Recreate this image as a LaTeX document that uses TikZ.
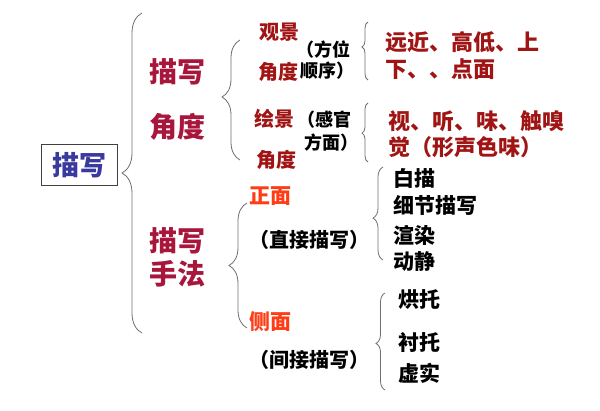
\documentclass[tikz,border=0pt]{standalone}
\usepackage{fontspec}
\newfontfamily\cjk{Noto Sans CJK SC}
\usetikzlibrary{decorations.pathreplacing, positioning}
\definecolor{boxblue}{HTML}{3A3A9E}
\definecolor{titlered}{HTML}{A8163C}
\definecolor{itemred}{HTML}{A01414}
\definecolor{sidered}{HTML}{FF3C14}
\definecolor{bracegrey}{HTML}{6E6E6E}
\tikzset{
  word/.style = {inner sep=0pt, font=\cjk\bfseries\fontsize{#1}{#1}\selectfont},
  root/.style = {word=27, text=boxblue, draw=black!75!white, thick,
                 minimum width=76pt, minimum height=41pt},
  title/.style = {word=28, text=titlered},
  angle/.style = {word=20, text=itemred},
  side/.style = {word=21, text=sidered},
  note/.style = {word=18, text=black},
  detail/.style = {word=22, text=itemred, anchor=west},
  item/.style = {word=21, text=black, anchor=west},
  brace/.style 2 args = {decoration={brace, amplitude=#1, aspect=#2},
                         decorate, bracegrey, line width=0.8pt},
}

\begin{document}
\begin{tikzpicture}[x=1pt, y=-1pt]
  \useasboundingbox (0,0) rectangle (600,410);

  % root
  \node (root) [root] at (79,165) {描写};
  \draw [brace={20}{0.5}] (142,333) -- (142,13);

  % first level
  \node (angle1) [title] at (177,72) {描写};
  \node (angle2) [title] at (177,127) {角度};
  \node (method1) [title] at (177,241) {描写};
  \node (method2) [title] at (177,274) {手法};

  % describing angle
  \draw [brace={18}{0.525}] (240,160) -- (240,40);
  \node (view1) [angle] at (279,32) {观景};
  \node (view2) [angle] at (278,72) {角度};
  \node (paint1) [angle] at (274,119) {绘景};
  \node (paint2) [angle] at (276,160) {角度};
  \node (order1) [note, anchor=west] at (296,50) {（方位};
  \node (order2) [note, anchor=west] at (300,71) {顺序）};
  \node (sense1) [note, anchor=west] at (297,120) {（感官};
  \node (sense2) [note, anchor=west] at (304,143) {方面）};
  \draw [brace={6}{0.57}] (368,80) -- (368,22);
  \draw [brace={6}{0.49}] (368,162) -- (368,103);
  \node (place1) [detail] at (385,42) {远近、高低、上};
  \node (place2) [detail] at (385,69) {下、、点面};
  \node (feel1) [detail] at (388,121) {视、听、味、触嗅};
  \node (feel2) [detail] at (388,147) {觉（形声色味）};

  % describing method
  \draw [brace={18}{0.5}] (247,328) -- (247,203);
  \node (front) [side] at (270,196) {正面};
  \node (direct) [note, word=20, anchor=west] at (249,240) {（直接描写）};
  \node (aside) [side] at (270,322) {侧面};
  \node (indirect) [note, word=20, anchor=west] at (249,360) {（间接描写）};
  \draw [brace={10}{0.45}] (383,260) -- (383,167);
  \draw [brace={9}{0.48}] (385,390) -- (385,293);
  \foreach \txt/\y [count=\i] in {白描/178, 细节描写/205, 渲染/235, 动静/262}
    \node (direct\i) [item] at (393,\y) {\txt};
  \foreach \txt/\y [count=\i] in {烘托/300, 衬托/343, 虚实/373}
    \node (indirect\i) [item] at (398,\y) {\txt};
\end{tikzpicture}
\end{document}
